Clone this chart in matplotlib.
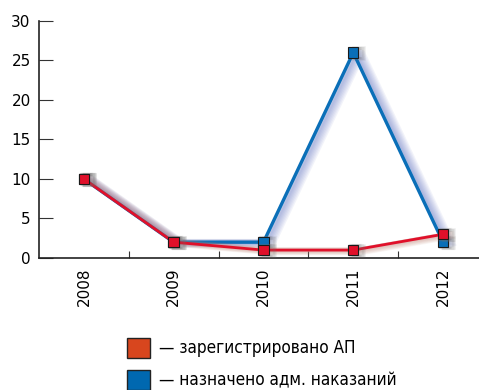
import matplotlib
matplotlib.use('Agg')
import matplotlib.pyplot as plt
import matplotlib.patheffects as pe
from matplotlib.patches import Rectangle

years = ['2008', '2009', '2010', '2011', '2012']
registered = [10, 2, 1, 1, 3]       # зарегистрировано АП
penalties = [10, 2, 2, 26, 2]       # назначено адм. наказаний

RED = '#e0102a'
BLUE = '#0a6fb8'


# soft shadow to the right of a stroke, built from stacked offset copies
def soft_shadow(color, width, n=8, grow=0.5, alpha=0.08):
    fx = []
    for d in range(n, 0, -1):
        fx.append(pe.SimpleLineShadow(offset=(d * 0.7, -d * 0.1), shadow_color=color,
                                      alpha=alpha, linewidth=width + d * grow))
    fx.append(pe.Normal())
    return fx


fig = plt.figure(figsize=(4.79, 3.90), dpi=100)
ax = fig.add_axes([0.0814, 0.3385, 0.9186, 0.6077])

x = list(range(len(years)))
ax.plot(x, penalties, color=BLUE, lw=2.4, zorder=3,
        path_effects=soft_shadow('#5a6ec0', 2.4))
ax.plot(x, penalties, ls='none', marker='s', ms=7.5, mfc=BLUE, mec='#1a1a1a', mew=0.8,
        zorder=4, path_effects=soft_shadow('#707070', 0.8, n=6, grow=0.3, alpha=0.1))
ax.plot(x, registered, color=RED, lw=2.0, zorder=5,
        path_effects=soft_shadow('#c08070', 2.0, alpha=0.07))
ax.plot(x, registered, ls='none', marker='s', ms=7.5, mfc=RED, mec='#1a1a1a', mew=0.8,
        zorder=6, path_effects=soft_shadow('#707070', 0.8, n=6, grow=0.3, alpha=0.1))

ax.set_ylim(0, 30)
ax.set_xlim(-0.5, 4.4)
ax.set_yticks(range(0, 31, 5))
ax.set_xticks([i + 0.5 for i in range(4)])
ax.set_xticklabels([])
ax.set_xticks(x, minor=True)
ax.set_xticklabels(years, minor=True, rotation=90, fontsize=11)
ax.tick_params(axis='x', which='minor', length=0, pad=7)
ax.tick_params(axis='x', which='major', direction='in', length=5, color='#333333')
ax.tick_params(axis='y', direction='in', length=10, color='#333333', labelsize=11, pad=6)
for s in ['top', 'right']:
    ax.spines[s].set_visible(False)
for s in ['left', 'bottom']:
    ax.spines[s].set_color('#222222')
    ax.spines[s].set_linewidth(1.2)

# legend drawn with swatches in figure coordinates
labels = ['— зарегистрировано АП', '— назначено адм. наказаний']
swatches = ['#d8461e', '#0068b0']
for i, (lab, c) in enumerate(zip(labels, swatches)):
    y0 = 1 - (358 + i * 32) / 390
    fig.patches.append(Rectangle((127 / 479, y0), 23 / 479, 20 / 390, transform=fig.transFigure,
                                 facecolor=c, edgecolor='#222222', lw=1.0))
    fig.text(159 / 479, y0 + 10 / 390, lab, fontsize=12.3, va='center', ha='left',
             family='DejaVu Sans', stretch='condensed')

fig.savefig('out.png', dpi=100)
